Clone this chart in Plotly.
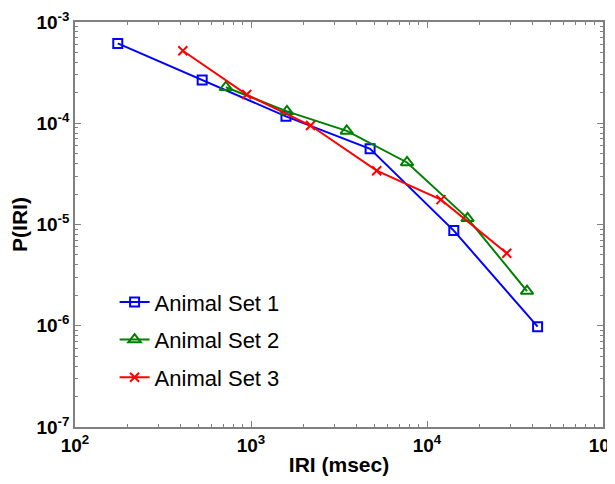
import plotly.graph_objects as go

# IRI (msec) and P(IRI) for each animal set
iri_set1 = [175, 528, 1580, 4750, 14200, 42500]
p_set1 = [6.15e-4, 2.67e-4, 1.17e-4, 5.6e-5, 8.7e-6, 9.8e-7]

iri_set2 = [720, 1600, 3500, 7700, 17000, 37000]
p_set2 = [2.27e-4, 1.31e-4, 8.4e-5, 4.1e-5, 1.15e-5, 2.2e-6]

iri_set3 = [410, 946, 2180, 5180, 12000, 28400]
p_set3 = [5.2e-4, 1.92e-4, 9.5e-5, 3.4e-5, 1.76e-5, 5.2e-6]

names = ["Animal Set 1", "Animal Set 2", "Animal Set 3"]

x_ticks = [1e2, 1e3, 1e4, 1e5]
x_ticktext = ["10<sup>2</sup>", "10<sup>3</sup>", "10<sup>4</sup>", "10<sup>5</sup>"]
y_ticks = [1e-7, 1e-6, 1e-5, 1e-4, 1e-3]
y_ticktext = ["10<sup>-7</sup>", "10<sup>-6</sup>", "10<sup>-5</sup>", "10<sup>-4</sup>", "10<sup>-3</sup>"]

x_minor = [m * 10 ** e for e in range(2, 5) for m in range(2, 10)]
y_minor = [m * 10.0 ** e for e in range(-7, -3) for m in range(2, 10)]

fig = go.Figure()
fig.add_trace(go.Scatter(x=iri_set1, y=p_set1, name=names[0], mode="lines+markers",
                         legendgroup="a",
                         line=dict(color="#0000FF", width=2),
                         marker=dict(symbol="square-open", size=9, color="#0000FF",
                                     line=dict(width=2))))
fig.add_trace(go.Scatter(x=iri_set2, y=p_set2, name=names[1], mode="lines+markers",
                         legendgroup="b",
                         line=dict(color="#008000", width=2),
                         marker=dict(symbol="triangle-up-open", size=11, color="#008000",
                                     line=dict(width=2))))
fig.add_trace(go.Scatter(x=iri_set3, y=p_set3, name=names[2], mode="lines+markers",
                         legendgroup="c",
                         line=dict(color="#FF0000", width=2),
                         marker=dict(symbol="x-thin-open", size=9, color="#FF0000",
                                     line=dict(width=2, color="#FF0000"))))

axis_style = dict(
    type="log", showgrid=False, zeroline=False, automargin=False,
    showline=True, linecolor="#808080", linewidth=1.5, mirror="ticks",
    ticks="inside", ticklen=6, tickcolor="#808080", ticklabeloverflow="allow",
    tickfont=dict(family="Liberation Sans, Arial", size=19, color="black", weight="bold"),
)

fig.update_xaxes(**axis_style, range=[2, 5], tickvals=x_ticks, ticktext=x_ticktext,
                 minor=dict(tickvals=x_minor, ticks="inside", ticklen=3, tickcolor="#808080"),
                 title=dict(text="<b>IRI (msec)</b>", standoff=3,
                            font=dict(family="Liberation Sans, Arial", size=21, color="black")))
fig.update_yaxes(**axis_style, range=[-7, -3], tickvals=y_ticks, ticktext=y_ticktext,
                 minor=dict(tickvals=y_minor, ticks="inside", ticklen=3, tickcolor="#808080"),
                 title=dict(text="<b>P(IRI)</b>", standoff=4,
                            font=dict(family="Liberation Sans, Arial", size=21, color="black")))

# page body has an 8px margin, so the figure is slightly smaller and shifted
fig.update_layout(
    width=607, height=476,
    margin=dict(l=67, r=12, t=14, b=57),
    paper_bgcolor="white", plot_bgcolor="white",
    legend=dict(x=0.075, y=0.36, xanchor="left", yanchor="top",
                bgcolor="rgba(0,0,0,0)", traceorder="grouped", tracegroupgap=6,
                font=dict(family="Liberation Sans, Arial", size=22, color="black")),
)

fig.write_html("out.html")
